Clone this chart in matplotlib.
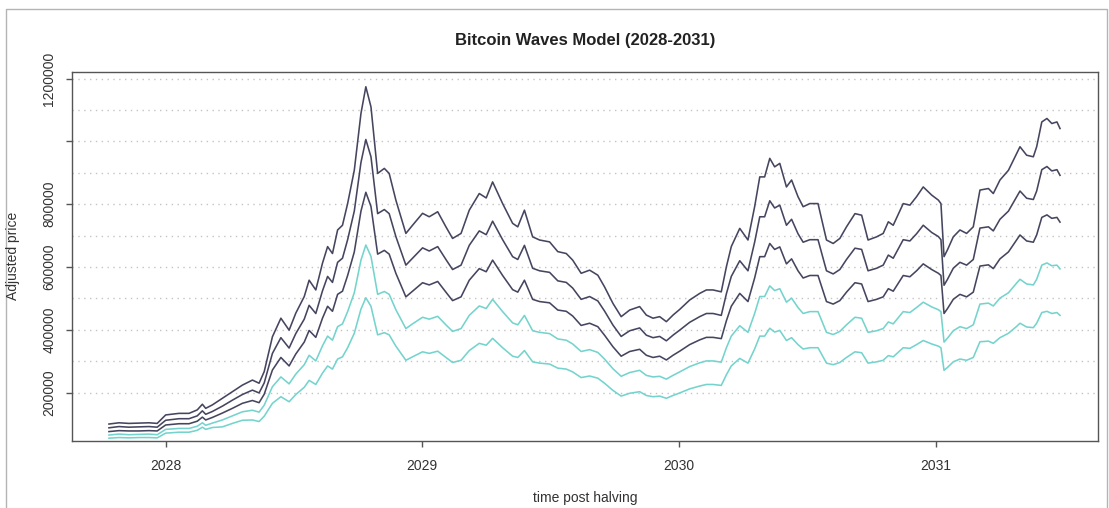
import numpy as np
import matplotlib
matplotlib.use("Agg")
import matplotlib.pyplot as plt
from matplotlib.lines import Line2D

plt.rcParams['font.family'] = ['Liberation Sans', 'DejaVu Sans']

# time axis (years)
years = [2027.779, 2027.818, 2027.857, 2027.896, 2027.935, 2027.967, 2028.000, 2028.052, 2028.091, 2028.123,
         2028.143, 2028.156, 2028.182, 2028.221, 2028.260, 2028.299, 2028.338, 2028.364, 2028.384, 2028.416,
         2028.449, 2028.481, 2028.507, 2028.540, 2028.559, 2028.585, 2028.611, 2028.631, 2028.650, 2028.670,
         2028.689, 2028.709, 2028.735, 2028.761, 2028.780, 2028.800, 2028.826, 2028.852, 2028.871, 2028.897,
         2028.936, 2028.962, 2029.001, 2029.027, 2029.060, 2029.092, 2029.118, 2029.151, 2029.183, 2029.222,
         2029.249, 2029.274, 2029.313, 2029.352, 2029.372, 2029.398, 2029.430, 2029.457, 2029.496, 2029.528,
         2029.561, 2029.586, 2029.619, 2029.652, 2029.684, 2029.710, 2029.743, 2029.775, 2029.808, 2029.847,
         2029.873, 2029.899, 2029.925, 2029.951, 2029.977, 2030.003, 2030.042, 2030.081, 2030.107, 2030.133,
         2030.165, 2030.185, 2030.204, 2030.237, 2030.269, 2030.295, 2030.315, 2030.334, 2030.354, 2030.373,
         2030.393, 2030.419, 2030.439, 2030.464, 2030.484, 2030.510, 2030.542, 2030.575, 2030.601, 2030.627,
         2030.653, 2030.686, 2030.712, 2030.737, 2030.770, 2030.796, 2030.816, 2030.835, 2030.874, 2030.900,
         2030.926, 2030.952, 2030.985, 2031.011, 2031.021, 2031.033, 2031.046, 2031.069, 2031.095, 2031.121,
         2031.147, 2031.173, 2031.206, 2031.225, 2031.251, 2031.284, 2031.316, 2031.329, 2031.355, 2031.381,
         2031.394, 2031.414, 2031.434, 2031.453, 2031.473, 2031.485]

# adjusted price bands, thousands
band1 = [100, 104, 102, 103, 104, 102, 129, 134, 134, 145, 163, 150, 161, 182, 203, 224, 240, 230, 267, 378,
         437, 399, 453, 506, 558, 527, 612, 665, 643, 718, 733, 802, 908, 1089, 1174, 1110, 898, 914, 898, 813,
         707, 733, 771, 760, 776, 728, 691, 707, 781, 834, 820, 871, 802, 739, 728, 781, 696, 686, 680, 649,
         643, 622, 580, 590, 574, 537, 484, 442, 463, 474, 447, 437, 442, 426, 447, 465, 495, 516, 527, 527,
         521, 601, 665, 723, 686, 792, 887, 887, 946, 919, 930, 855, 877, 824, 792, 802, 802, 686, 675, 691,
         728, 770, 765, 686, 696, 707, 744, 733, 802, 797, 824, 855, 829, 813, 802, 633, 654, 696, 718, 707,
         728, 845, 850, 834, 877, 908, 961, 983, 956, 951, 983, 1062, 1073, 1057, 1062, 1041]
band2 = [88, 92, 90, 91, 92, 90, 112, 117, 117, 126, 142, 131, 140, 157, 176, 194, 208, 199, 231, 325,
         375, 342, 388, 434, 478, 452, 524, 570, 551, 615, 628, 687, 778, 933, 1006, 951, 770, 783, 770, 697,
         606, 628, 661, 651, 665, 624, 592, 606, 669, 715, 703, 746, 687, 633, 624, 669, 596, 588, 583, 556,
         551, 533, 497, 506, 492, 460, 415, 379, 397, 406, 383, 375, 379, 365, 383, 399, 424, 442, 452, 452,
         446, 515, 570, 620, 588, 679, 760, 760, 811, 788, 797, 733, 752, 706, 679, 687, 687, 588, 578, 592,
         624, 660, 656, 588, 596, 606, 638, 628, 687, 683, 706, 733, 710, 697, 687, 542, 560, 596, 615, 606,
         624, 724, 728, 715, 752, 778, 824, 842, 819, 815, 842, 910, 920, 906, 910, 892]
band3 = [76, 79, 78, 78, 79, 78, 97, 101, 101, 109, 122, 113, 121, 135, 150, 166, 175, 168, 195, 272,
         312, 285, 323, 361, 398, 376, 437, 475, 459, 513, 523, 573, 648, 778, 838, 793, 641, 653, 641, 580,
         505, 523, 550, 543, 554, 520, 493, 505, 558, 595, 585, 622, 573, 528, 520, 558, 497, 490, 486, 463,
         459, 444, 414, 421, 410, 383, 346, 316, 331, 338, 319, 312, 316, 304, 319, 332, 353, 368, 376, 376,
         372, 429, 475, 516, 490, 565, 633, 633, 675, 656, 664, 610, 626, 588, 565, 573, 573, 490, 482, 493,
         520, 550, 546, 490, 497, 505, 531, 523, 573, 569, 588, 610, 592, 580, 573, 452, 467, 497, 513, 505,
         520, 603, 607, 595, 626, 648, 686, 702, 683, 679, 702, 758, 766, 755, 758, 743]
band4 = [65, 68, 66, 67, 68, 66, 83, 86, 86, 93, 104, 96, 103, 113, 126, 139, 144, 138, 160, 219,
         250, 228, 259, 289, 319, 301, 349, 380, 367, 410, 419, 458, 518, 622, 670, 634, 513, 522, 513, 464,
         404, 419, 440, 434, 443, 416, 395, 404, 446, 476, 468, 497, 458, 422, 416, 446, 397, 392, 388, 371,
         367, 355, 331, 337, 328, 307, 276, 252, 264, 271, 255, 250, 252, 243, 255, 266, 283, 295, 301, 301,
         297, 343, 380, 413, 392, 452, 506, 506, 540, 525, 531, 488, 501, 471, 452, 458, 458, 392, 385, 395,
         416, 440, 437, 392, 397, 404, 425, 419, 458, 455, 471, 488, 473, 464, 458, 361, 373, 397, 410, 404,
         416, 482, 485, 476, 501, 518, 549, 561, 546, 543, 561, 606, 613, 604, 606, 594]
band5 = [55, 57, 56, 57, 57, 56, 71, 74, 74, 80, 90, 83, 89, 91, 102, 112, 113, 108, 125, 166,
         187, 171, 194, 217, 239, 226, 262, 285, 275, 307, 314, 343, 389, 466, 502, 475, 384, 391, 384, 348,
         303, 314, 330, 325, 332, 312, 296, 303, 334, 357, 351, 373, 343, 316, 312, 334, 298, 294, 291, 278,
         275, 266, 248, 253, 246, 230, 207, 189, 198, 203, 191, 187, 189, 182, 191, 199, 212, 221, 226, 226,
         223, 257, 285, 309, 294, 339, 380, 380, 405, 393, 398, 366, 375, 353, 339, 343, 343, 294, 289, 296,
         312, 330, 327, 294, 298, 303, 318, 314, 343, 341, 353, 366, 355, 348, 343, 271, 280, 298, 307, 303,
         312, 362, 364, 357, 375, 389, 411, 421, 409, 407, 421, 455, 459, 452, 455, 446]

bands = [band1, band2, band3, band4, band5]
colors = ['#45455f', '#45455f', '#45455f', '#74d4cd', '#74d4cd']

x_ticks = [2028, 2029, 2030, 2031]
y_ticks = [200000, 400000, 600000, 800000, 1000000, 1200000]
y_labels = ['200000', '400000', '600000', '800000', '', '1200000']
grid_levels = np.arange(200000, 1200001, 100000)

W, H = 1109, 508
fig = plt.figure(figsize=(W / 100, H / 100), dpi=100)
ax = fig.add_axes([72 / W, 1 - 441 / H, (1098 - 72) / W, (441 - 72) / H])

for g in grid_levels:
    ax.axhline(g, color='#c4c4c4', lw=1.0, ls=(0, (1, 3.2)), zorder=1)

t = np.array(years)
for b, c in zip(bands, colors):
    ax.plot(t, np.array(b) * 1000, color=c, lw=1.15, zorder=2, solid_joinstyle='round')

ax.set_xlim(2027.635, 2031.633)
ax.set_ylim(46000, 1221000)
ax.set_xticks(x_ticks)
ax.set_xticklabels([str(v) for v in x_ticks])
ax.set_yticks(y_ticks)
ax.set_yticklabels(y_labels, rotation=90, va='center')

for s in ax.spines.values():
    s.set_color('#555555')
    s.set_linewidth(1.0)
ax.tick_params(axis='both', direction='out', length=4.3, width=1, color='#555555',
               labelsize=10, labelcolor='#333333')
ax.tick_params(axis='x', pad=9)
ax.tick_params(axis='y', pad=7)

fig.text(585 / W, 1 - 40 / H, 'Bitcoin Waves Model (2028-2031)', ha='center', va='center',
         fontsize=12, fontweight='bold', color='#222222')
fig.text(585 / W, 1 - 498 / H, 'time post halving', ha='center', va='center',
         fontsize=10, color='#333333')
fig.text(13 / W, 1 - 256 / H, 'Adjusted price', ha='center', va='center', rotation=90,
         fontsize=10, color='#333333')

# outer frame of the screenshot
px = lambda x: x / W
py = lambda y: 1 - y / H
fig.add_artist(Line2D([px(6), px(6), px(1107), px(1107)], [py(508), py(9), py(9), py(508)],
                      color='#b4b4b4', lw=1.0))

fig.savefig('out.png', dpi=100)
